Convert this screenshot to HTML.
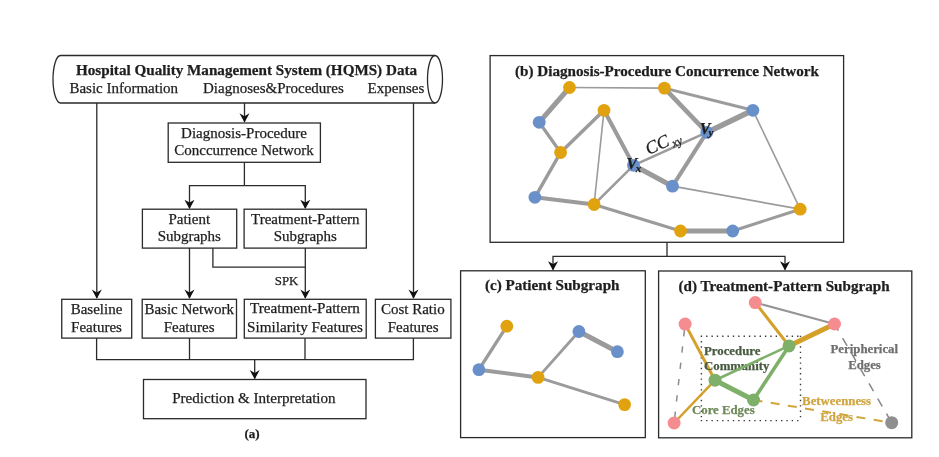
<!DOCTYPE html>
<html><head><meta charset="utf-8">
<style>
html,body{margin:0;padding:0;background:#fff;}
body{width:939px;height:457px;overflow:hidden;}
svg{display:block;will-change:transform;}
text{font-family:"Liberation Serif",serif;fill:#1e1e1e;stroke:#1e1e1e;stroke-width:0.25px;}
.n{font-size:15px;}
.b{font-size:15.15px;font-weight:bold;}
.t{font-size:15.15px;font-weight:bold;}
.ln{stroke:#2a2a2a;stroke-width:1.3;fill:none;}
.bx{stroke:#2a2a2a;stroke-width:1.3;fill:none;}
.ah{fill:#111;}
.e{stroke:#9b9b9b;fill:none;stroke-linecap:butt;}
.o{fill:#e1a210;}
.bl{fill:#6a90c9;}
</style></head>
<body>
<svg width="939" height="457" viewBox="0 0 939 457">
<defs>
<path id="arr" d="M-5 -9.3 L0 0 L5 -9.3 L0 -6.4 Z"/>
</defs>
<!-- ===== (a) flowchart ===== -->
<!-- cylinder -->
<path class="bx" d="M60.5 55.5 L435 55.5 M60.5 103 L435 103 M60.5 55.5 A7.5 23.75 0 0 0 60.5 103"/>
<ellipse class="bx" cx="435" cy="79.25" rx="7.5" ry="23.75"/>
<text class="t" x="76" y="74.8">Hospital Quality Management System (HQMS) Data</text>
<text class="n" x="69.4" y="93.3">Basic Information</text>
<text class="n" x="203" y="93.3">Diagnoses&amp;Procedures</text>
<text class="n" x="367.6" y="93.3">Expenses</text>

<!-- verticals from cylinder -->
<path class="ln" d="M96.8 103 V298 M413.5 103 V298 M244.5 103 V122"/>
<use href="#arr" class="ah" x="96.8" y="298.8"/>
<use href="#arr" class="ah" x="413.5" y="298.8"/>
<use href="#arr" class="ah" x="244.5" y="122.6"/>

<!-- DPCN box -->
<rect class="bx" x="168.2" y="123" width="152.2" height="39.3"/>
<text class="n" x="244" y="137.6" text-anchor="middle">Diagnosis-Procedure</text>
<text class="n" x="244" y="155.4" text-anchor="middle">Conccurrence Network</text>

<path class="ln" d="M244.4 162.3 V185.7 M189.5 208 V185.7 H305.3 V208"/>
<use href="#arr" class="ah" x="189.5" y="209"/>
<use href="#arr" class="ah" x="305.3" y="209"/>

<rect class="bx" x="142.4" y="209.2" width="94.3" height="38.9"/>
<text class="n" x="189.3" y="223.6" text-anchor="middle">Patient</text>
<text class="n" x="189.3" y="241.3" text-anchor="middle">Subgraphs</text>
<rect class="bx" x="244.1" y="209.2" width="122.2" height="38.9"/>
<text class="n" x="305.3" y="223.6" text-anchor="middle">Treatment-Pattern</text>
<text class="n" x="305.3" y="241.3" text-anchor="middle">Subgraphs</text>

<path class="ln" d="M189.5 247.9 V298 M212.9 247.9 V267.2 H305.3 M305.3 247.9 V298"/>
<use href="#arr" class="ah" x="189.5" y="298.8"/>
<use href="#arr" class="ah" x="305.3" y="298.8"/>
<text x="286.6" y="285.1" text-anchor="middle" style="font-size:12.8px">SPK</text>

<!-- feature boxes -->
<rect class="bx" x="61.75" y="299.3" width="69.95" height="38.8"/>
<text class="n" x="96.5" y="313.6" text-anchor="middle">Baseline</text>
<text class="n" x="96.5" y="331.9" text-anchor="middle">Features</text>
<rect class="bx" x="142.2" y="299.3" width="94.3" height="38.8"/>
<text class="n" x="189.2" y="313.6" text-anchor="middle">Basic Network</text>
<text class="n" x="189.1" y="331.9" text-anchor="middle">Features</text>
<rect class="bx" x="244.3" y="299.3" width="121.9" height="38.8"/>
<text class="n" x="305" y="313.3" text-anchor="middle" style="font-size:15.2px">Treatment-Pattern</text>
<text class="n" x="305" y="331.7" text-anchor="middle" style="font-size:15.2px">Similarity Features</text>
<rect class="bx" x="375.4" y="299.3" width="75.5" height="38.8"/>
<text class="n" x="412.8" y="313.6" text-anchor="middle">Cost Ratio</text>
<text class="n" x="413.2" y="331.9" text-anchor="middle">Features</text>

<path class="ln" d="M96.6 338.2 V359.6 H413.4 V338.2 M189.5 338.2 V359.6 M305 338.2 V359.6 M254.7 359.6 V378.5"/>
<use href="#arr" class="ah" x="254.7" y="379.3"/>

<rect class="bx" x="143.5" y="379.5" width="222.5" height="39.2"/>
<text class="n" x="253.9" y="403.4" text-anchor="middle" style="font-size:15.1px">Prediction &amp; Interpretation</text>
<text x="252" y="438.4" text-anchor="middle" style="font-size:13px;font-weight:bold">(a)</text>

<!-- ===== (b) ===== -->
<rect class="bx" x="490.1" y="55.6" width="353.5" height="186.7"/>
<text class="b" x="667" y="75.9" text-anchor="middle">(b) Diagnosis-Procedure Concurrence Network</text>
<g class="e">
<line x1="569.5" y1="87.5" x2="664.4" y2="88.1" stroke-width="1.6"/>
<line x1="569.5" y1="87.5" x2="539.2" y2="122.3" stroke-width="5"/>
<line x1="539.2" y1="122.3" x2="560.6" y2="152.5" stroke-width="3.2"/>
<line x1="560.6" y1="152.5" x2="604" y2="110.3" stroke-width="3.5"/>
<line x1="604" y1="110.3" x2="633.5" y2="165.3" stroke-width="4"/>
<line x1="604" y1="110.3" x2="594.1" y2="204.5" stroke-width="1.6"/>
<line x1="560.6" y1="152.5" x2="534.9" y2="197.3" stroke-width="3.5"/>
<line x1="534.9" y1="197.3" x2="594.1" y2="204.5" stroke-width="4"/>
<line x1="594.1" y1="204.5" x2="633.5" y2="165.3" stroke-width="2.5"/>
<line x1="633.5" y1="165.3" x2="706.8" y2="132.4" stroke-width="2.5"/>
<line x1="633.5" y1="165.3" x2="672.5" y2="186.2" stroke-width="5"/>
<line x1="672.5" y1="186.2" x2="706.8" y2="132.4" stroke-width="4"/>
<line x1="664.4" y1="88.1" x2="706.8" y2="132.4" stroke-width="4.5"/>
<line x1="664.4" y1="88.1" x2="752.9" y2="110.3" stroke-width="3"/>
<line x1="706.8" y1="132.4" x2="752.9" y2="110.3" stroke-width="5.5"/>
<line x1="752.9" y1="110.3" x2="800.2" y2="209.2" stroke-width="1.6"/>
<line x1="672.5" y1="186.2" x2="800.2" y2="209.2" stroke-width="1.8"/>
<line x1="594.1" y1="204.5" x2="680.5" y2="231" stroke-width="3"/>
<line x1="680.5" y1="231" x2="732.7" y2="231" stroke-width="5"/>
<line x1="732.7" y1="231" x2="800.2" y2="209.2" stroke-width="3"/>
</g>
<g>
<circle class="o" cx="569.5" cy="87.5" r="6.4"/>
<circle class="o" cx="664.4" cy="88.1" r="6.4"/>
<circle class="bl" cx="539.2" cy="122.3" r="6.4"/>
<circle class="o" cx="604" cy="110.3" r="6.4"/>
<circle class="bl" cx="752.9" cy="110.3" r="6.4"/>
<circle class="o" cx="560.6" cy="152.5" r="6.4"/>
<circle class="bl" cx="706.8" cy="132.4" r="6.4"/>
<circle class="bl" cx="633.5" cy="165.3" r="6.4"/>
<circle class="bl" cx="534.9" cy="197.3" r="6.4"/>
<circle class="o" cx="594.1" cy="204.5" r="6.4"/>
<circle class="bl" cx="672.5" cy="186.2" r="6.4"/>
<circle class="o" cx="800.2" cy="209.2" r="6.4"/>
<circle class="o" cx="680.5" cy="231" r="6.4"/>
<circle class="bl" cx="732.7" cy="231" r="6.4"/>
</g>
<g style="font-style:italic;font-weight:bold;fill:#18223a;stroke:#18223a;stroke-width:0.1px">
<text x="626.5" y="169.3" style="font-size:16px">V</text>
<text x="635.8" y="171.5" style="font-size:11px">x</text>
<text x="699.8" y="134.2" style="font-size:16px">V</text>
<text x="708.5" y="136.3" style="font-size:11px">y</text>
</g>
<g transform="translate(648.5 155) rotate(-24)" style="font-style:italic;fill:#1a1a1a;stroke:#1a1a1a">
<text x="0" y="0" style="font-size:18px">CC</text>
<text x="26" y="3.5" style="font-size:12px">xy</text>
</g>

<path class="ln" d="M667 242.3 V256.4 M553 269.5 V256.4 H785 V269.5"/>
<use href="#arr" class="ah" x="553" y="270.5"/>
<use href="#arr" class="ah" x="785" y="270.5"/>

<!-- ===== (c) ===== -->
<rect class="bx" x="460.6" y="270.8" width="184.7" height="166.8"/>
<text class="b" x="552.2" y="290.3" text-anchor="middle">(c) Patient Subgraph</text>
<g class="e">
<line x1="506.8" y1="326.2" x2="478.9" y2="369.7" stroke-width="3.4"/>
<line x1="478.9" y1="369.7" x2="538.1" y2="377.4" stroke-width="4"/>
<line x1="538.1" y1="377.4" x2="578.9" y2="331.5" stroke-width="2.8"/>
<line x1="578.9" y1="331.5" x2="617.4" y2="351.7" stroke-width="5"/>
<line x1="538.1" y1="377.4" x2="624.6" y2="404.6" stroke-width="2.9"/>
</g>
<circle class="o" cx="506.8" cy="326.2" r="6.4"/>
<circle class="bl" cx="478.9" cy="369.7" r="6.4"/>
<circle class="o" cx="538.1" cy="377.4" r="6.4"/>
<circle class="bl" cx="578.9" cy="331.5" r="6.4"/>
<circle class="bl" cx="617.4" cy="351.7" r="6.4"/>
<circle class="o" cx="624.6" cy="404.6" r="6.4"/>

<!-- ===== (d) ===== -->
<rect class="bx" x="658.6" y="271" width="253.2" height="166.8"/>
<text class="b" x="784.1" y="290.8" text-anchor="middle">(d) Treatment-Pattern Subgraph</text>
<path d="M700.75 336.3 H801 M700.75 420.6 H801 M701.4 335.65 V421 M800.5 335.65 V421" fill="none" stroke="#3a3a3a" stroke-width="1.4" stroke-dasharray="1.4 3.95"/>
<g fill="none">
<line x1="685.1" y1="324.1" x2="674.1" y2="423" stroke="#8c8c8c" stroke-width="1.5" stroke-dasharray="6.3 10.1" stroke-dashoffset="-6"/>
<line x1="834.5" y1="324" x2="891.7" y2="422.7" stroke="#868686" stroke-width="1.5" stroke-dasharray="9 8.5" stroke-dashoffset="1.3"/>
<line x1="753.5" y1="400" x2="891.7" y2="422.7" stroke="#d2a53c" stroke-width="2" stroke-dasharray="9 8.4"/>
<line x1="755.3" y1="302.6" x2="834.5" y2="324" stroke="#959595" stroke-width="2"/>
<line x1="685.1" y1="324.1" x2="715" y2="380.2" stroke="#d4a02a" stroke-width="3"/>
<line x1="674.1" y1="423" x2="715" y2="380.2" stroke="#d4a02a" stroke-width="2.5"/>
<line x1="755.3" y1="302.6" x2="789" y2="345.9" stroke="#d4a02a" stroke-width="3"/>
<line x1="834.5" y1="324" x2="789" y2="345.9" stroke="#d4a02a" stroke-width="5"/>
</g>
<text x="704" y="354.7" style="font-size:12.8px;font-weight:bold;fill:#485a40;stroke:#485a40">Procedure</text>
<text x="704" y="369.7" style="font-size:12.8px;font-weight:bold;fill:#485a40;stroke:#485a40">Community</text>
<g fill="none" stroke="#7fb06a">
<line x1="789" y1="345.9" x2="715" y2="380.2" stroke-width="2.6"/>
<line x1="715" y1="380.2" x2="753.5" y2="400" stroke-width="5"/>
<line x1="753.5" y1="400" x2="789" y2="345.9" stroke-width="3.6"/>
</g>
<circle cx="685.1" cy="324.1" r="6.5" fill="#f58c90"/>
<circle cx="755.3" cy="302.6" r="6.5" fill="#f58c90"/>
<circle cx="834.5" cy="324" r="6.5" fill="#f58c90"/>
<circle cx="674.1" cy="423" r="6.5" fill="#f58c90"/>
<circle cx="715" cy="380.2" r="6.5" fill="#7fb06a"/>
<circle cx="789" cy="345.9" r="6.5" fill="#7fb06a"/>
<circle cx="753.5" cy="400" r="6.5" fill="#7fb06a"/>
<circle cx="891.7" cy="422.7" r="6.5" fill="#8f8f8f"/>
<text x="692" y="413.6" style="font-size:12.8px;font-weight:bold;fill:#6f8a5a;stroke:#6f8a5a">Core Edges</text>
<text x="864.3" y="352.6" text-anchor="middle" style="font-size:12.8px;font-weight:bold;fill:#6e6e6e;stroke:#6e6e6e">Peripherical</text>
<text x="864.5" y="368.7" text-anchor="middle" style="font-size:12.8px;font-weight:bold;fill:#6e6e6e;stroke:#6e6e6e">Edges</text>
<text x="836.6" y="404.7" text-anchor="middle" style="font-size:12.8px;font-weight:bold;fill:#cfa540;stroke:#cfa540">Betweenness</text>
<text x="836.6" y="420.9" text-anchor="middle" style="font-size:12.8px;font-weight:bold;fill:#cfa540;stroke:#cfa540">Edges</text>
</svg>
</body></html>
